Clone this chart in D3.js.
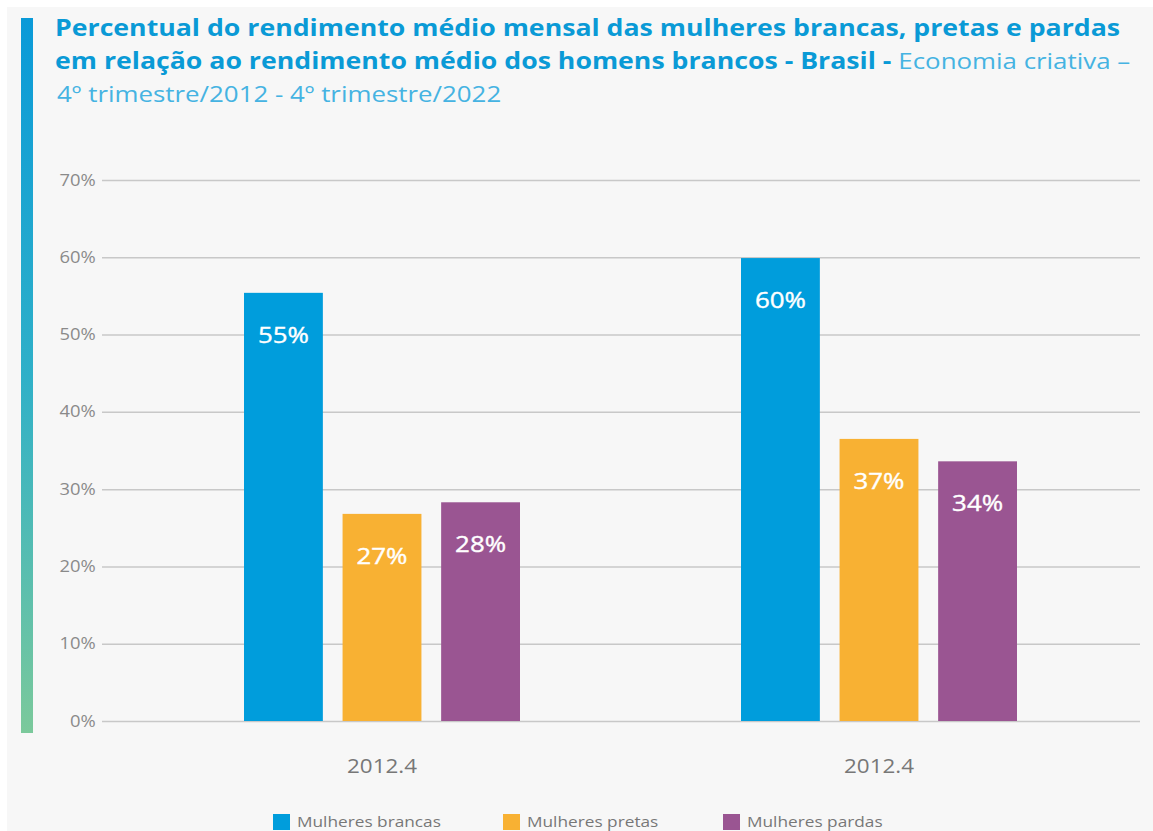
<!DOCTYPE html>
<html>
<head>
<meta charset="utf-8">
<script src="https://cdn.jsdelivr.net/npm/d3@7"></script>
<style>
  body { margin: 0; background: #fff; }
  svg { display: block; }
</style>
</head>
<body>
<svg id="chart" width="1153" height="831"></svg>
<script>
// data
const categories = ["2012.4", "2012.4"]
const seriesNames = ["Mulheres brancas", "Mulheres pretas", "Mulheres pardas"]
const seriesColors = ["#009ddc", "#f8b133", "#9a5592"]
const brancas = [55.4, 59.9]
const pretas = [26.8, 36.5]
const pardas = [28.3, 33.6]
const valueLabels = [["55%", "27%", "28%"], ["60%", "37%", "34%"]]
const yTicks = [0, 10, 20, 30, 40, 50, 60, 70]

var svg = d3.select("#chart")
var width = 1153, height = 831
var font = "'Open Sans', sans-serif"
var stretch = 1.15   // the reference type is set wide

// text drawn at (x,y) with horizontal stretch
function wideText(parent, x, y) {
    return parent.append("g")
        .attr("transform", "translate(" + x + "," + y + ") scale(" + stretch + ",1)")
        .append("text").attr("font-family", font)
}

// background panel
svg.append("rect").attr("x", 7).attr("y", 7).attr("width", width - 7).attr("height", height - 7).attr("fill", "#f7f7f7")

// left gradient bar
var defs = svg.append("defs")
var grad = defs.append("linearGradient").attr("id", "sideGrad").attr("x1", 0).attr("y1", 0).attr("x2", 0).attr("y2", 1)
grad.append("stop").attr("offset", "0%").attr("stop-color", "#0a9ad8")
grad.append("stop").attr("offset", "50%").attr("stop-color", "#2fb0c8")
grad.append("stop").attr("offset", "100%").attr("stop-color", "#7bc99b")
svg.append("rect").attr("x", 21).attr("y", 18).attr("width", 12).attr("height", 715).attr("fill", "url(#sideGrad)")

// title
wideText(svg, 55, 36)
    .attr("font-size", 23.2).attr("font-weight", "bold").attr("fill", "#0a9ad6")
    .text("Percentual do rendimento médio mensal das mulheres brancas, pretas e pardas")
var t2 = wideText(svg, 55, 69)
t2.append("tspan").attr("font-weight", "bold").attr("font-size", 23.2).attr("fill", "#0a9ad6")
    .text("em relação ao rendimento médio dos homens brancos - Brasil - ")
t2.append("tspan").attr("font-weight", "normal").attr("font-size", 22.5).attr("fill", "#45b3e2")
    .text(" Economia criativa –")
wideText(svg, 57, 102)
    .attr("font-size", 22.5).attr("fill", "#45b3e2")
    .text("4º trimestre/2012 - 4º trimestre/2022")

// scales
var yScale = d3.scaleLinear().domain([0, 70]).range([721, 180])
var x0 = d3.scaleBand().domain(d3.range(categories.length)).range([133.5, 1127.5])
var x1 = d3.scaleBand().domain(d3.range(seriesNames.length)).range([0, 276]).paddingInner(0.2)

// grid + y labels
var yAxis = d3.axisLeft(yScale).tickValues(yTicks).tickSize(-(1140 - 102)).tickFormat(d => d + "%").tickPadding(6)
var yg = svg.append("g").attr("transform", "translate(102,0)").call(yAxis)
yg.select(".domain").remove()
yg.selectAll(".tick line").attr("stroke", "#c8c8c8").attr("stroke-width", 1.5)
yg.selectAll(".tick text").attr("font-family", font).attr("font-size", 16)
    .attr("fill", "#8a8a8a").attr("x", -5.5).attr("transform", "scale(" + stretch + ",1)")

// bars
var series = [brancas, pretas, pardas]
var groups = svg.append("g").selectAll("g").data(categories).join("g")
    .attr("transform", (d, i) => "translate(" + (x0(i) + x0.bandwidth() / 2 - 138) + ",0)")

groups.each(function(cat, ci) {
    var g = d3.select(this)
    series.forEach((s, si) => {
        g.append("rect")
            .attr("x", x1(si))
            .attr("y", yScale(s[ci]))
            .attr("width", x1.bandwidth())
            .attr("height", yScale(0) - yScale(s[ci]))
            .attr("fill", seriesColors[si])
        wideText(g, x1(si) + x1.bandwidth() / 2, yScale(s[ci]) + 50)
            .attr("text-anchor", "middle")
            .attr("font-size", 22.5)
            .attr("fill", "#fff")
            .attr("stroke", "#fff").attr("stroke-width", 0.4)
            .text(valueLabels[ci][si])
    })
    wideText(g, 138, 773)
        .attr("text-anchor", "middle")
        .attr("font-size", 19.5).attr("fill", "#777")
        .text(cat)
})

// legend
var legendX = [273, 503, 723]
var legend = svg.append("g").selectAll("g").data(seriesNames).join("g")
    .attr("transform", (d, i) => "translate(" + legendX[i] + ",814)")
legend.append("rect").attr("width", 17).attr("height", 16).attr("fill", (d, i) => seriesColors[i])
legend.each(function(d) {
    wideText(d3.select(this), 24, 13).attr("font-size", 15).attr("fill", "#777").text(d)
})
</script>
</body>
</html>
